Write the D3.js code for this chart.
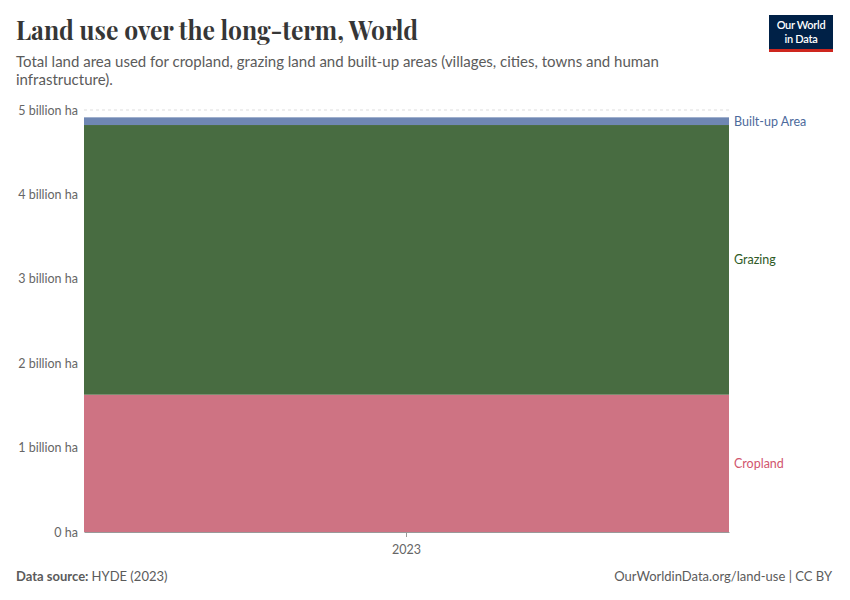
<!DOCTYPE html>
<html>
<head>
<meta charset="utf-8">
<script src="https://cdn.jsdelivr.net/npm/d3@7"></script>
<style>
  body { margin: 0; background: #fff; }
  svg { display: block; font-family: Lato, "Noto Sans", sans-serif; }
</style>
</head>
<body>
<svg id="chart" width="850" height="600"></svg>
<script>
(function(){

  // data (billion hectares, 2023)
  var years = ["2023"];
  var seriesNames = ["Cropland", "Grazing", "Built-up Area"];
  var cropland = [1.627];
  var grazing = [3.195];
  var builtUp = [0.091];
  var yTicks = [0, 1, 2, 3, 4, 5];

  var fills = { "Cropland": "#ce7383", "Grazing": "#486c41", "Built-up Area": "#6f87b3" };
  var labelColors = { "Cropland": "#d1566e", "Grazing": "#2f5a26", "Built-up Area": "#4c6a9c" };

  var margin = { top: 110, left: 84, right: 121, bottom: 68 };
  var width = 850, height = 600;

  var svg = d3.select('#chart');

  // header
  svg.append('text')
    .attr('x', 16).attr('y', 40)
    .attr('textLength', 402)
    .attr('lengthAdjust', 'spacingAndGlyphs')
    .style('font-family', '"Playfair Display", "Liberation Serif", serif')
    .style('font-size', '26px')
    .style('font-weight', 700)
    .attr('fill', '#363636')
    .text('Land use over the long-term, World');

  svg.append('text')
    .attr('x', 16).attr('y', 67)
    .style('font-size', '15px')
    .attr('fill', '#5b5b5b')
    .text('Total land area used for cropland, grazing land and built-up areas (villages, cities, towns and human');
  svg.append('text')
    .attr('x', 16).attr('y', 85)
    .style('font-size', '15px')
    .attr('fill', '#5b5b5b')
    .text('infrastructure).');

  // logo
  var logo = svg.append('g').attr('transform', 'translate(769,15)');
  logo.append('rect').attr('width', 64).attr('height', 37).attr('fill', '#002147');
  logo.append('rect').attr('y', 34).attr('width', 64).attr('height', 3).attr('fill', '#ce261e');
  logo.append('text').attr('x', 32).attr('y', 14).attr('text-anchor', 'middle')
    .attr('fill', '#fff').style('font-size', '11px').style('font-weight', 600)
    .style('letter-spacing', '-0.3px').text('Our World');
  logo.append('text').attr('x', 32).attr('y', 28).attr('text-anchor', 'middle')
    .attr('fill', '#fff').style('font-size', '11px').style('font-weight', 600)
    .style('letter-spacing', '-0.3px').text('in Data');

  var x = d3.scaleBand()
    .domain(years)
    .range([margin.left, width - margin.right])
    .padding(0);

  var y = d3.scaleLinear()
    .domain([0, 5])
    .range([532, margin.top]);

  // gridlines
  svg.append('g')
    .selectAll('line')
    .data(yTicks.filter(function(d){ return d > 0; }))
    .enter()
    .append('line')
    .attr('x1', margin.left).attr('x2', width - margin.right)
    .attr('y1', function(d){ return y(d); })
    .attr('y2', function(d){ return y(d); })
    .attr('stroke', '#dddddd')
    .attr('stroke-dasharray', '3,3');

  // stacked data
  var table = years.map(function(yr, i) {
    return { year: yr, "Cropland": cropland[i], "Grazing": grazing[i], "Built-up Area": builtUp[i] };
  });
  var stacked = d3.stack().keys(seriesNames)(table);

  svg.append('g')
    .selectAll('g')
    .data(stacked)
    .enter()
    .append('g')
    .attr('fill', function(d){ return fills[d.key]; })
    .selectAll('rect')
    .data(function(d){ return d; })
    .enter()
    .append('rect')
    .attr('x', function(d){ return x(d.data.year); })
    .attr('width', x.bandwidth())
    .attr('y', function(d){ return y(d[1]); })
    .attr('height', function(d){ return y(d[0]) - y(d[1]); });

  // y axis labels
  svg.append('g')
    .selectAll('text')
    .data(yTicks)
    .enter()
    .append('text')
    .attr('x', 78)
    .attr('y', function(d){ return y(d) + 4.5; })
    .attr('text-anchor', 'end')
    .style('font-size', '12.5px')
    .attr('fill', '#666')
    .text(function(d){ return d === 0 ? '0 ha' : d + ' billion ha'; });

  // x axis
  var xAxis = svg.append('g')
    .attr('transform', 'translate(0,532)')
    .call(d3.axisBottom(x).tickSize(5).tickSizeOuter(0));
  xAxis.select('.domain').attr('stroke', '#999');
  xAxis.selectAll('.tick line').attr('stroke', '#999');
  xAxis.selectAll('.tick text')
    .attr('dy', '1.1em')
    .style('font-family', 'Lato, sans-serif')
    .style('font-size', '12.5px')
    .attr('fill', '#666');

  // series labels
  var labelY = {
    "Built-up Area": function(s){ return (y(s[0][0]) + y(s[0][1])) / 2; },
    "Grazing": function(s){ return (y(s[0][0]) + y(s[0][1])) / 2; },
    "Cropland": function(s){ return (y(s[0][0]) + y(s[0][1])) / 2; }
  };
  svg.append('g')
    .selectAll('text')
    .data(stacked)
    .enter()
    .append('text')
    .attr('x', width - margin.right + 5)
    .attr('y', function(d){ return labelY[d.key](d) + 4.5; })
    .style('font-size', '12.5px')
    .attr('fill', function(d){ return labelColors[d.key]; })
    .text(function(d){ return d.key; });

  // footer
  var foot = svg.append('text')
    .attr('x', 16).attr('y', 581)
    .style('font-size', '13px')
    .attr('fill', '#5b5b5b');
  foot.append('tspan').style('font-weight', 700).text('Data source: ');
  foot.append('tspan').text('HYDE (2023)');

  svg.append('text')
    .attr('x', 832).attr('y', 581)
    .attr('text-anchor', 'end')
    .style('font-size', '13px')
    .attr('fill', '#5b5b5b')
    .text('OurWorldinData.org/land-use | CC BY');

})();
</script>
</body>
</html>
